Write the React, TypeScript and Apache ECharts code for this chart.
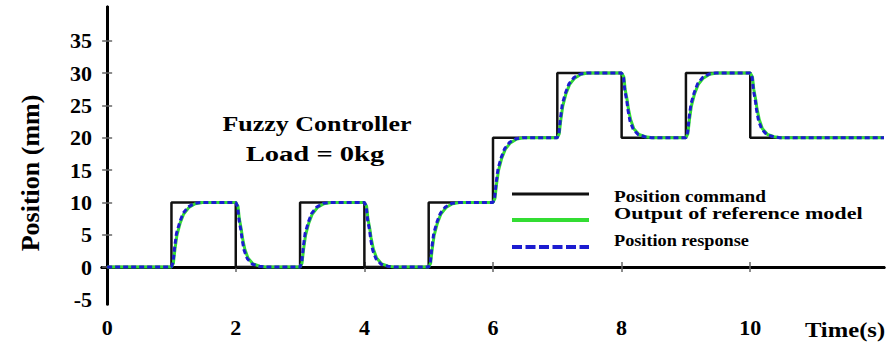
import React, { useEffect, useRef } from "react";
import * as echarts from "echarts";

// Time range of the plot box (s) and position range (mm)
const X_MIN = -0.08;
const X_MAX = 12.08;
const Y_MIN = -5.7;
const Y_MAX = 40.2;

const xTickLabels = [0, 2, 4, 6, 8, 10];
const yTickLabels = [-5, 0, 5, 10, 15, 20, 25, 30, 35];
const xTickMarks = [2, 4, 6, 8, 10];
const yTickMarks = [0, 5, 10, 15, 20, 25, 30, 35];

// Position command: [time (s), new set-point (mm)], held until the next entry
const positionCommand: [number, number][] = [
  [0, 0], [1, 10], [2, 0], [3, 10], [4, 0], [5, 10],
  [6, 20], [7, 30], [8, 20], [9, 30], [10, 20], [12.08, 20],
];

// Output of the reference model: [time (s), position (mm)]
const referenceModel: [number, number][] = [
  [0, 0],
  [1, 0], [1.03, 0.6], [1.055, 2.8], [1.085, 4.9], [1.135, 6.8], [1.19, 8.2], [1.27, 9.2], [1.37, 9.8], [1.48, 10],
  [2, 10], [2.035, 9.4], [2.055, 7.5], [2.085, 5.9], [2.105, 4.5], [2.14, 2.8], [2.19, 1.4], [2.27, 0.5], [2.37, 0.15], [2.48, 0],
  [3, 0], [3.03, 0.6], [3.055, 2.8], [3.085, 4.9], [3.135, 6.8], [3.19, 8.2], [3.27, 9.2], [3.37, 9.8], [3.48, 10],
  [4, 10], [4.035, 9.4], [4.055, 7.5], [4.085, 5.9], [4.105, 4.5], [4.14, 2.8], [4.19, 1.4], [4.27, 0.5], [4.37, 0.15], [4.48, 0],
  [5, 0], [5.03, 0.6], [5.055, 2.8], [5.085, 4.9], [5.135, 6.8], [5.19, 8.2], [5.27, 9.2], [5.37, 9.8], [5.48, 10],
  [6, 10], [6.03, 10.6], [6.055, 12.8], [6.085, 14.9], [6.135, 16.8], [6.19, 18.2], [6.27, 19.2], [6.37, 19.8], [6.48, 20],
  [7, 20], [7.03, 20.6], [7.055, 22.8], [7.085, 24.9], [7.135, 26.8], [7.19, 28.2], [7.27, 29.2], [7.37, 29.8], [7.48, 30],
  [8, 30], [8.035, 29.4], [8.055, 27.5], [8.085, 25.9], [8.105, 24.5], [8.14, 22.8], [8.19, 21.4], [8.27, 20.5], [8.37, 20.15], [8.48, 20],
  [9, 20], [9.03, 20.6], [9.055, 22.8], [9.085, 24.9], [9.135, 26.8], [9.19, 28.2], [9.27, 29.2], [9.37, 29.8], [9.48, 30],
  [10, 30], [10.035, 29.4], [10.055, 27.5], [10.085, 25.9], [10.105, 24.5], [10.14, 22.8], [10.19, 21.4], [10.27, 20.5], [10.37, 20.15], [10.48, 20],
  [12.08, 20],
];

// Measured position response: [time (s), position (mm)]
const positionResponse: [number, number][] = [
  [0, 0],
  [1, 0], [1.026, 0.8], [1.05, 3.1], [1.078, 5.2], [1.13, 7.0], [1.18, 8.3], [1.26, 9.3], [1.36, 9.85], [1.46, 10],
  [2, 10], [2.03, 9.3], [2.05, 7.3], [2.08, 5.7], [2.1, 4.2], [2.13, 2.6], [2.18, 1.3], [2.26, 0.45], [2.36, 0.15], [2.46, 0],
  [3, 0], [3.026, 0.8], [3.05, 3.1], [3.078, 5.2], [3.13, 7.0], [3.18, 8.3], [3.26, 9.3], [3.36, 9.85], [3.46, 10],
  [4, 10], [4.03, 9.3], [4.05, 7.3], [4.08, 5.7], [4.1, 4.2], [4.13, 2.6], [4.18, 1.3], [4.26, 0.45], [4.36, 0.15], [4.46, 0],
  [5, 0], [5.026, 0.8], [5.05, 3.1], [5.078, 5.2], [5.13, 7.0], [5.18, 8.3], [5.26, 9.3], [5.36, 9.85], [5.46, 10],
  [6, 10], [6.026, 10.8], [6.05, 13.1], [6.078, 15.2], [6.13, 17.0], [6.18, 18.3], [6.26, 19.3], [6.36, 19.85], [6.46, 20],
  [7, 20], [7.026, 20.8], [7.05, 23.1], [7.078, 25.2], [7.13, 27.0], [7.18, 28.3], [7.26, 29.3], [7.36, 29.85], [7.46, 30],
  [8, 30], [8.03, 29.3], [8.05, 27.3], [8.08, 25.7], [8.1, 24.2], [8.13, 22.6], [8.18, 21.3], [8.26, 20.45], [8.36, 20.15], [8.46, 20],
  [9, 20], [9.026, 20.8], [9.05, 23.1], [9.078, 25.2], [9.13, 27.0], [9.18, 28.3], [9.26, 29.3], [9.36, 29.85], [9.46, 30],
  [10, 30], [10.03, 29.3], [10.05, 27.3], [10.08, 25.7], [10.1, 24.2], [10.13, 22.6], [10.18, 21.3], [10.26, 20.45], [10.36, 20.15], [10.46, 20],
  [12.08, 20],
];

const SERIF = "'Liberation Serif', 'Times New Roman', serif";
const C_COMMAND = "#111111";
const C_MODEL = "#33dd33";
const C_RESPONSE = "#1c1cd0";

const boxAxisLine = { show: true, lineStyle: { color: "#000", width: 3 } };
const tickStyle = { color: "#666", width: 1.5 };

export default function App() {
  const ref = useRef<HTMLDivElement>(null);

  useEffect(() => {
    if (!ref.current) return;
    const chart = echarts.init(ref.current, null, { renderer: "svg" });

    const xBase = { type: "value" as const, min: X_MIN, max: X_MAX, splitLine: { show: false } };
    const yBase = { type: "value" as const, min: Y_MIN, max: Y_MAX, splitLine: { show: false } };

    chart.setOption({
      animation: false,
      backgroundColor: "#fff",
      grid: { left: 102, right: 6, top: 7, bottom: 42, containLabel: false },
      xAxis: [
        {
          ...xBase,
          position: "bottom",
          axisLine: boxAxisLine,
          axisTick: { show: false },
          axisLabel: {
            customValues: xTickLabels,
            fontFamily: SERIF,
            fontWeight: "bold",
            fontSize: 22,
            color: "#000",
            margin: 12,
          },
        },
        { ...xBase, position: "top", axisLine: boxAxisLine, axisTick: { show: false }, axisLabel: { show: false } },
        {
          ...xBase,
          position: "bottom",
          offset: -4,
          axisLine: { show: false },
          axisTick: { show: true, inside: true, length: 5, customValues: xTickMarks, lineStyle: tickStyle },
          axisLabel: { show: false },
        },
        {
          ...xBase,
          position: "top",
          offset: -4,
          axisLine: { show: false },
          axisTick: { show: true, inside: true, length: 5, customValues: xTickMarks, lineStyle: tickStyle },
          axisLabel: { show: false },
        },
      ],
      yAxis: [
        {
          ...yBase,
          position: "left",
          axisLine: boxAxisLine,
          axisTick: { show: false },
          axisLabel: {
            customValues: yTickLabels,
            fontFamily: SERIF,
            fontWeight: "bold",
            fontSize: 22,
            color: "#000",
            margin: 10,
          },
        },
        { ...yBase, position: "right", axisLine: boxAxisLine, axisTick: { show: false }, axisLabel: { show: false } },
        {
          ...yBase,
          position: "left",
          offset: -4,
          axisLine: { show: false },
          axisTick: { show: true, inside: true, length: 5, customValues: yTickMarks, lineStyle: tickStyle },
          axisLabel: { show: false },
        },
        {
          ...yBase,
          position: "right",
          offset: -4,
          axisLine: { show: false },
          axisTick: { show: true, inside: true, length: 5, customValues: yTickMarks, lineStyle: tickStyle },
          axisLabel: { show: false },
        },
      ],
      series: [
        {
          name: "Position command",
          type: "line",
          step: "end",
          data: positionCommand,
          showSymbol: false,
          symbol: "none",
          lineStyle: { color: C_COMMAND, width: 2.5 },
          z: 2,
        },
        {
          name: "Output of reference model",
          type: "line",
          data: referenceModel,
          showSymbol: false,
          symbol: "none",
          lineStyle: { color: C_MODEL, width: 3 },
          z: 3,
        },
        {
          name: "Position response",
          type: "line",
          data: positionResponse,
          showSymbol: false,
          symbol: "none",
          lineStyle: { color: C_RESPONSE, width: 3, type: [5, 3] },
          z: 4,
        },
      ],
      graphic: [
        {
          type: "text",
          x: 30,
          y: 173,
          rotation: Math.PI / 2,
          style: {
            text: "Position (mm)",
            font: `bold 26px ${SERIF}`,
            fill: "#000",
            align: "center",
            verticalAlign: "middle",
          },
        },
        {
          type: "text",
          x: 845,
          y: 329,
          scaleX: 1.12,
          style: {
            text: "Time(s)",
            font: `bold 22px ${SERIF}`,
            fill: "#000",
            align: "center",
            verticalAlign: "middle",
          },
        },
        {
          type: "text",
          x: 317,
          y: 124,
          scaleX: 1.18,
          style: {
            text: "Fuzzy Controller",
            font: `bold 22px ${SERIF}`,
            fill: "#000",
            align: "center",
            verticalAlign: "middle",
          },
        },
        {
          type: "text",
          x: 315,
          y: 154,
          scaleX: 1.3,
          style: {
            text: "Load = 0kg",
            font: `bold 22px ${SERIF}`,
            fill: "#000",
            align: "center",
            verticalAlign: "middle",
          },
        },
        // Legend
        { type: "line", shape: { x1: 512, y1: 194, x2: 589, y2: 194 }, style: { stroke: C_COMMAND, lineWidth: 3 } },
        { type: "line", shape: { x1: 512, y1: 220, x2: 589, y2: 220 }, style: { stroke: C_MODEL, lineWidth: 4 } },
        {
          type: "line",
          shape: { x1: 512, y1: 247, x2: 589, y2: 247 },
          style: { stroke: C_RESPONSE, lineWidth: 4, lineDash: [10, 3.5] },
        },
        {
          type: "text",
          x: 614,
          y: 197,
          scaleX: 1.2,
          style: { text: "Position command", font: `bold 16px ${SERIF}`, fill: "#000", verticalAlign: "middle" },
        },
        {
          type: "text",
          x: 614,
          y: 214,
          scaleX: 1.38,
          style: { text: "Output of reference model", font: `bold 16px ${SERIF}`, fill: "#000", verticalAlign: "middle" },
        },
        {
          type: "text",
          x: 614,
          y: 241,
          scaleX: 1.14,
          style: { text: "Position response", font: `bold 16px ${SERIF}`, fill: "#000", verticalAlign: "middle" },
        },
      ],
    });

    return () => chart.dispose();
  }, []);

  return (
    <div
      ref={ref}
      style={{ position: "fixed", left: 0, top: 0, width: 890, height: 346, background: "#fff" }}
    />
  );
}
